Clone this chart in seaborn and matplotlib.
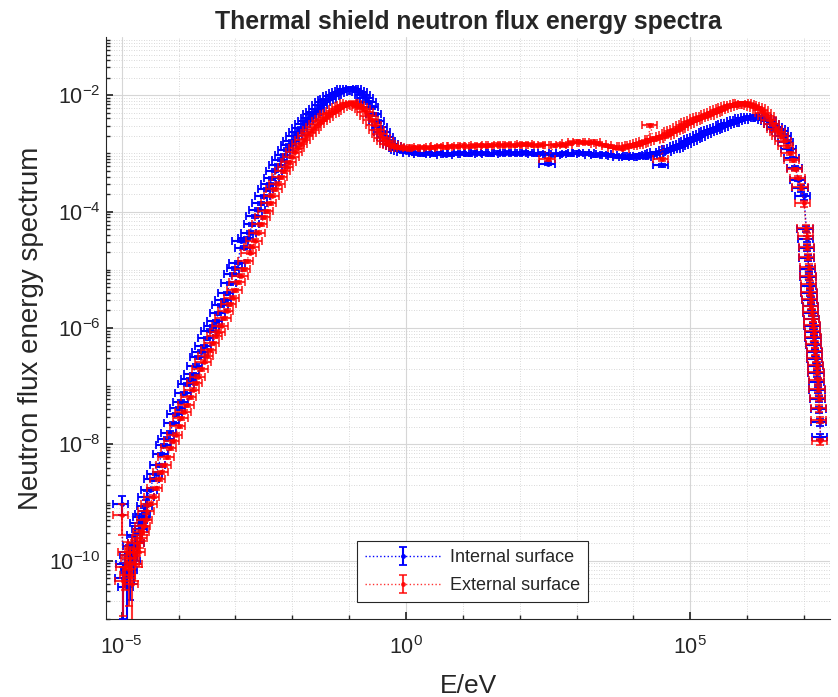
import numpy as np
import pandas as pd
import matplotlib
matplotlib.use("Agg")
import matplotlib.pyplot as plt
import seaborn as sns
from matplotlib.ticker import FixedLocator, LogFormatterSciNotation, NullFormatter
from matplotlib.container import ErrorbarContainer

# --- Data (stored as log10 exponents) ---
# energy bins, eV (exponents)
E_LOW = [-5.00, -4.97, -4.94, -4.91, -4.88, -4.85, -4.82, -4.79,
         -4.76, -4.73, -4.70, -4.67, -4.64, -4.61, -4.58, -4.55]
E_MAIN = [-4.5, -4.4, -4.3, -4.2, -4.1, -4.0, -3.9, -3.8, -3.7, -3.6,
          -3.5, -3.4, -3.3, -3.2, -3.1, -3.0, -2.9, -2.8, -2.7, -2.6,
          -2.5, -2.4, -2.3, -2.2, -2.1, -2.0, -1.9, -1.8, -1.7, -1.6,
          -1.5, -1.4, -1.3, -1.2, -1.1, -1.0, -0.9, -0.8, -0.7, -0.6,
          -0.5, -0.4, -0.3, -0.2, -0.1, 0.0, 0.1, 0.2, 0.3, 0.4,
          0.5, 0.6, 0.7, 0.8, 0.9, 1.0, 1.1, 1.2, 1.3, 1.4,
          1.5, 1.6, 1.7, 1.8, 1.9, 2.0, 2.1, 2.2, 2.3, 2.4,
          2.5, 2.6, 2.7, 2.8, 2.9, 3.0, 3.1, 3.2, 3.3, 3.4,
          3.5, 3.6, 3.7, 3.8, 3.9, 4.0, 4.1, 4.2, 4.3, 4.4,
          4.5, 4.6, 4.7, 4.8, 4.9, 5.0, 5.1, 5.2, 5.3, 5.4,
          5.5, 5.6, 5.7, 5.8, 5.9, 6.0, 6.1, 6.2, 6.3, 6.4,
          6.5, 6.6, 6.7, 6.8, 6.9]
# extra bins where the reference is densest (thermal rise, fast bump)
E_FILL = [-4.45, -4.35, -4.25, -4.15, -4.05, -3.95, -3.85, -3.75, -3.65, -3.55,
          -3.45, -3.35, -3.25, -3.15, -3.05, -2.95, -2.85, -2.75, -2.65, -2.55,
          -2.45, -2.35, -2.25, -2.15, -2.05, -1.95, -1.85, -1.75, -1.65, -1.55,
          -1.45, -1.35, -1.25, -1.15, -1.05, -0.95, -0.85, -0.75, -0.65, -0.55,
          -0.45, -0.35, -0.25, -0.15, -0.05,
          3.95, 4.05, 4.15, 4.25, 4.35, 4.45, 4.55, 4.65, 4.75, 4.85,
          4.95, 5.05, 5.15, 5.25, 5.35, 5.45, 5.55, 5.65, 5.75, 5.85,
          5.95, 6.05, 6.15, 6.25, 6.35, 6.45, 6.55, 6.65, 6.75, 6.85]
E_HIGH = [6.95, 7.00, 7.04, 7.05, 7.06, 7.07, 7.08, 7.09, 7.10, 7.11,
          7.12, 7.13, 7.14, 7.15, 7.16, 7.17, 7.18, 7.19, 7.20, 7.21,
          7.22, 7.23, 7.24, 7.25, 7.26, 7.27, 7.28, 7.29]

# internal surface flux (exponents)
INT_LOW = [-9.02, -10.30, -10.05, -10.45, -9.90, -10.15, -9.75, -10.00,
           -9.55, -9.70, -9.35, -9.45, -9.25, -9.20, -9.05, -8.90]
INT_MAIN = [-8.78, -8.50, -8.17, -7.90, -7.64, -7.38, -7.12, -6.88, -6.65, -6.41,
            -6.18, -5.97, -5.75, -5.52, -5.23, -4.97, -4.50, -4.46, -4.22, -3.97,
            -3.74, -3.53, -3.30, -3.11, -2.94, -2.79, -2.63, -2.50, -2.39, -2.28,
            -2.17, -2.09, -2.02, -1.96, -1.92, -1.89, -1.90, -1.95, -2.05, -2.21,
            -2.45, -2.64, -2.79, -2.88, -2.94, -2.97, -2.99, -3.00, -3.01, -3.00,
            -3.01, -3.00, -3.02, -3.01, -3.00, -3.00, -3.01, -2.99, -3.00, -3.00,
            -3.01, -2.99, -3.00, -2.99, -3.00, -3.00, -2.99, -3.00, -3.01, -3.00,
            -3.18, -3.02, -3.01, -3.00, -3.01, -2.99, -3.00, -3.00, -3.03, -3.02,
            -3.01, -3.03, -3.05, -3.06, -3.07, -3.05, -3.04, -3.06, -3.02, -3.00,
            -3.20, -2.95, -2.92, -2.88, -2.84, -2.78, -2.74, -2.68, -2.64, -2.60,
            -2.56, -2.52, -2.48, -2.45, -2.42, -2.39, -2.38, -2.38, -2.40, -2.45,
            -2.54, -2.62, -2.80, -3.08, -3.45]
INT_FILL = [-8.60, -8.36, -8.01, -7.80, -7.48, -7.27, -6.97, -6.79, -6.50, -6.31,
            -6.05, -5.88, -5.61, -5.40, -5.08, -4.88, -4.62, -4.36, -4.08, -3.86,
            -3.62, -3.43, -3.20, -3.03, -2.86, -2.70, -2.57, -2.44, -2.33, -2.23,
            -2.12, -2.06, -1.99, -1.94, -1.90, -1.89, -1.92, -1.99, -2.12, -2.33,
            -2.55, -2.72, -2.84, -2.91, -2.96,
            -3.06, -3.05, -3.05, -3.04, -3.01, -2.98, -2.97, -2.93, -2.90, -2.86,
            -2.81, -2.76, -2.71, -2.66, -2.62, -2.58, -2.54, -2.50, -2.47, -2.43,
            -2.40, -2.38, -2.37, -2.39, -2.42, -2.49, -2.58, -2.70, -2.93, -3.25]
INT_HIGH = [-3.60, -3.74, -4.30, -4.47, -4.62, -4.80, -4.98, -5.12, -5.28, -5.40,
            -5.52, -5.63, -5.74, -5.85, -5.96, -6.07, -6.18, -6.30, -6.42, -6.54,
            -6.66, -6.78, -6.92, -7.06, -7.22, -7.40, -7.62, -7.87]

# external surface flux (exponents)
EXT_LOW = [-9.21, -10.35, -10.10, -9.85, -10.25, -9.95, -10.40, -9.80,
           -10.05, -9.70, -9.85, -9.60, -9.50, -9.40, -9.30, -9.15]
EXT_MAIN = [-9.02, -8.75, -8.48, -8.22, -7.95, -7.69, -7.44, -7.19, -6.95, -6.71,
            -6.48, -6.26, -6.06, -5.83, -5.59, -5.35, -5.10, -4.85, -4.60, -4.36,
            -4.10, -3.86, -3.62, -3.41, -3.23, -3.06, -2.90, -2.77, -2.65, -2.54,
            -2.45, -2.37, -2.30, -2.23, -2.18, -2.14, -2.15, -2.20, -2.29, -2.43,
            -2.60, -2.74, -2.83, -2.88, -2.90, -2.91, -2.90, -2.90, -2.89, -2.90,
            -2.89, -2.88, -2.89, -2.88, -2.88, -2.87, -2.88, -2.87, -2.86, -2.87,
            -2.86, -2.85, -2.86, -2.85, -2.86, -2.85, -2.84, -2.85, -2.86, -2.85,
            -3.10, -2.86, -2.85, -2.86, -2.82, -2.80, -2.81, -2.82, -2.80, -2.83,
            -2.86, -2.88, -2.90, -2.92, -2.88, -2.86, -2.84, -2.80, -2.52, -2.75,
            -3.10, -2.68, -2.62, -2.58, -2.52, -2.46, -2.42, -2.38, -2.35, -2.30,
            -2.26, -2.22, -2.18, -2.16, -2.14, -2.15, -2.18, -2.22, -2.30, -2.42,
            -2.58, -2.70, -2.88, -3.12, -3.42]
EXT_FILL = [-8.90, -8.60, -8.36, -8.07, -7.83, -7.55, -7.33, -7.06, -6.84, -6.58,
            -6.38, -6.14, -5.96, -5.70, -5.48, -5.21, -4.99, -4.71, -4.50, -4.22,
            -3.99, -3.73, -3.52, -3.31, -3.15, -2.97, -2.84, -2.70, -2.60, -2.49,
            -2.41, -2.33, -2.27, -2.20, -2.16, -2.13, -2.17, -2.24, -2.36, -2.51,
            -2.67, -2.79, -2.86, -2.89, -2.90,
            -2.87, -2.85, -2.82, -2.78, -2.76, -2.72, -2.70, -2.65, -2.60, -2.55,
            -2.49, -2.44, -2.40, -2.36, -2.32, -2.28, -2.24, -2.20, -2.17, -2.15,
            -2.14, -2.16, -2.20, -2.26, -2.36, -2.50, -2.64, -2.78, -3.00, -3.27]
EXT_HIGH = [-3.58, -3.86, -4.28, -4.42, -4.60, -4.78, -4.95, -5.10, -5.25, -5.38,
            -5.50, -5.62, -5.72, -5.84, -5.95, -6.05, -6.16, -6.28, -6.40, -6.52,
            -6.64, -6.76, -6.90, -7.04, -7.20, -7.38, -7.58, -7.95]

# relative errors (vertical large only in the lowest bins)
INT_YREL_LOW = [0.35, 0.80, 0.60, 0.85, 0.50, 0.70, 0.45, 0.60,
                0.40, 0.50, 0.35, 0.40, 0.30, 0.30, 0.25, 0.25]
EXT_YREL_LOW = [0.55, 0.75, 0.60, 0.50, 0.70, 0.55, 0.80, 0.45,
                0.50, 0.40, 0.45, 0.35, 0.30, 0.30, 0.25, 0.25]
YREL_MAIN = 0.06
YREL_HIGH = 0.12
XREL = 0.30

LABELS = ["Internal surface", "External surface"]


def series_table(name, low, main, fill, high, yrel_low):
    e = E_LOW + E_MAIN + E_FILL + E_HIGH
    f = low + main + fill + high
    r = yrel_low + [YREL_MAIN] * (len(E_MAIN) + len(E_FILL)) + [YREL_HIGH] * len(E_HIGH)
    t = pd.DataFrame({"E": 10.0 ** np.array(e), "flux": 10.0 ** np.array(f), "yrel": r})
    t["surface"] = name
    return t.sort_values("E", kind="stable")


df = pd.concat([
    series_table(LABELS[0], INT_LOW, INT_MAIN, INT_FILL, INT_HIGH, INT_YREL_LOW),
    series_table(LABELS[1], EXT_LOW, EXT_MAIN, EXT_FILL, EXT_HIGH, EXT_YREL_LOW),
], ignore_index=True)

# --- Styling ---
sns.set_theme(style="white")
plt.rcParams["font.family"] = ["Liberation Sans", "DejaVu Sans"]
plt.rcParams["mathtext.fontset"] = "custom"
plt.rcParams["mathtext.rm"] = "Liberation Sans"

fig = plt.figure(figsize=(8.38, 6.97), dpi=100)
ax = fig.add_axes([0.1265, 0.1119, 0.864, 0.835])

colors = {"Internal surface": "#0000ff", "External surface": "#ff0000"}
alphas = {"Internal surface": 1.0, "External surface": 0.8}
handles = []
for i, name in enumerate(LABELS):
    d = df[df["surface"] == name]
    cont = ax.errorbar(d["E"], d["flux"], yerr=d["flux"] * d["yrel"], xerr=d["E"] * XREL,
                       fmt=":", marker=".", ms=5, lw=1.0, color=colors[name],
                       ecolor=colors[name], elinewidth=1.5, capsize=3.2, capthick=1.3,
                       alpha=alphas[name], zorder=3 + i)
    handles.append(ErrorbarContainer(cont.lines, has_xerr=False, has_yerr=True, label=name))

ax.set_xscale("log")
ax.set_yscale("log")
ax.set_xlim(5.3e-6, 2.87e7)
ax.set_ylim(1e-11, 1e-1)

ax.xaxis.set_major_locator(FixedLocator([1e-5, 1e0, 1e5]))
ax.xaxis.set_minor_locator(FixedLocator([10.0 ** k for k in range(-5, 8) if k not in (-5, 0, 5)]))
ax.yaxis.set_major_locator(FixedLocator([10.0 ** k for k in (-10, -8, -6, -4, -2)]))
ax.yaxis.set_minor_locator(FixedLocator([m * 10.0 ** k for k in range(-11, -1) for m in range(1, 10)
                                         if not (m == 1 and k % 2 == 0)]))
ax.xaxis.set_major_formatter(LogFormatterSciNotation())
ax.yaxis.set_major_formatter(LogFormatterSciNotation())
ax.xaxis.set_minor_formatter(NullFormatter())
ax.yaxis.set_minor_formatter(NullFormatter())

ax.set_axisbelow(True)
ax.grid(which="major", color="#d6d6d6", lw=0.8, ls="-")
ax.grid(which="minor", color="#cccccc", lw=0.6, ls=(0, (1, 2)))

for s in ("top", "right"):
    ax.spines[s].set_visible(False)
for s in ("left", "bottom"):
    ax.spines[s].set_color("#262626")
    ax.spines[s].set_linewidth(0.8)
ax.tick_params(which="both", direction="in", color="#262626", labelcolor="#262626",
               left=True, bottom=True)
ax.tick_params(which="major", length=5, labelsize=15.5)
ax.tick_params(axis="y", which="major", pad=4)
ax.tick_params(axis="x", which="major", pad=12)
ax.tick_params(which="minor", length=3)

ax.set_title("Thermal shield neutron flux energy spectra", fontsize=17.8, fontweight="bold", pad=6)
ax.set_xlabel("E/eV", fontsize=19, color="#262626", labelpad=11)
ax.set_ylabel("Neutron flux energy spectrum", fontsize=20, color="#262626", labelpad=4)

leg = ax.legend(handles=handles, loc="lower left", bbox_to_anchor=(0.347, 0.029),
                fontsize=13, frameon=True, fancybox=False, edgecolor="#262626",
                framealpha=1, handlelength=4.2, borderpad=0.45, labelspacing=0.6,
                handletextpad=0.5, borderaxespad=0)
leg.get_frame().set_linewidth(0.8)

fig.savefig("out.png", dpi=100)
plt.close(fig)
